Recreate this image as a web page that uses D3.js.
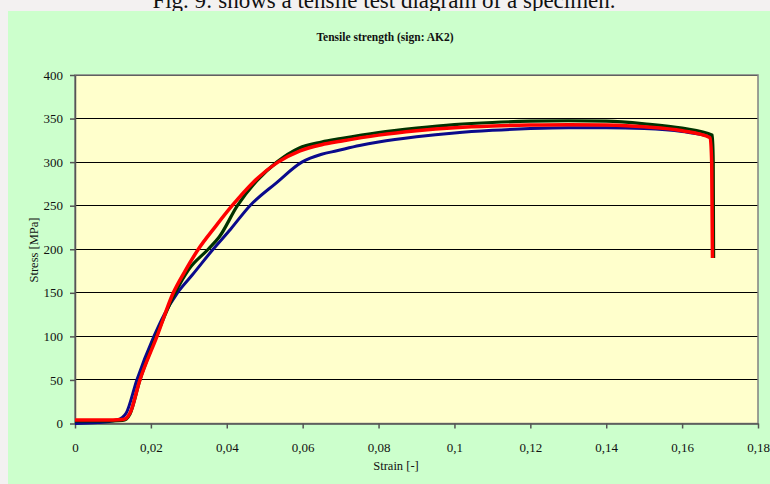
<!DOCTYPE html>
<html><head><meta charset="utf-8">
<script src="https://cdn.jsdelivr.net/npm/d3@7"></script>
<style>html,body{margin:0;padding:0;background:#f3f1f1;overflow:hidden}</style>
</head><body>
<svg id="c" width="770" height="484"></svg>
<script>
const xTicks = [0,0.02,0.04,0.06,0.08,0.1,0.12,0.14,0.16,0.18];
const yTicks = [0,50,100,150,200,250,300,350,400];

const blueStrain = [0,0.006,0.011,0.0125,0.0135,0.0163,0.0208,0.0235,0.027,0.031,0.0364,0.041,0.0461,0.053,0.0598,0.065,0.069,0.075,0.08,0.09,0.1,0.11,0.12,0.13,0.14,0.15,0.16,0.1675,0.168];
const blueStress = [0,1,4,7,12,50,100,125,150,171,200,223,250,276,300,309,313,319,323,329,333.5,336.5,338.5,339.5,339.5,338.5,335,329,320];

const greenStrain = [0,0.01,0.0125,0.0135,0.0145,0.0171,0.0214,0.0264,0.030,0.0351,0.038,0.0428,0.048,0.0532,0.059,0.065,0.07,0.08,0.09,0.1,0.11,0.12,0.13,0.14,0.15,0.16,0.168,0.1682,0.1683];
const greenStress = [3,3,3.5,5,11,50,100,150,177,200,214,250,279,300,316,323,327,334,339,343,345.5,347,347.5,347,344,339,331,300,190];

const redStrain = [0,0.005,0.010,0.0125,0.0135,0.0145,0.0171,0.0216,0.0259,0.029,0.0325,0.037,0.0414,0.047,0.0535,0.0593,0.065,0.07,0.08,0.09,0.1,0.11,0.12,0.13,0.14,0.15,0.16,0.1674,0.1678,0.168];
const redStress = [4,4,4,4.5,6,12,50,100,150,175,200,226,250,277,300,313,320,324,331,336,339.5,341.5,342.5,343,342.5,340.5,336,328,300,190];

const svg = d3.select("#c");
const serif = "'Liberation Serif','DejaVu Serif',serif";

// caption of page (cut off at top, as in the original)
svg.append("text").attr("x",384).attr("y",8).attr("text-anchor","middle")
  .attr("font-family",serif).attr("font-size",23).attr("fill","#111")
  .text("Fig. 9: shows a tensile test diagram of a specimen.");

// chart panel
svg.append("rect").attr("x",8).attr("y",11).attr("width",770).attr("height",480).attr("fill","#ccffcc");

const L=75, R=758, T=75, B=423.5;
const x = d3.scaleLinear().domain([0,0.18]).range([L,R]);
const y = d3.scaleLinear().domain([0,400]).range([B,T]);

svg.append("rect").attr("x",L).attr("y",T).attr("width",R-L).attr("height",B-T).attr("fill","#ffffcc");

// grid
svg.append("g").selectAll("line").data(yTicks.filter(d=>d>0)).join("line")
  .attr("x1",L).attr("x2",R).attr("y1",d=>y(d)).attr("y2",d=>y(d))
  .attr("stroke","#000").attr("stroke-width",1).attr("shape-rendering","crispEdges");

// border
svg.append("rect").attr("x",L).attr("y",T).attr("width",R-L).attr("height",B-T)
  .attr("fill","none").attr("stroke","#808080").attr("stroke-width",1.5);

const fmt = d => d===0 ? "0" : String(+d.toFixed(2)).replace(".",",");

const xAxis = svg.append("g").attr("transform",`translate(0,${B})`)
  .call(d3.axisBottom(x).tickValues(xTicks).tickFormat(fmt).tickSize(5).tickSizeOuter(0));
const yAxis = svg.append("g").attr("transform",`translate(${L},0)`)
  .call(d3.axisLeft(y).tickValues(yTicks).tickSize(5).tickSizeOuter(0));
[xAxis,yAxis].forEach(a=>{
  a.select(".domain").attr("stroke","#555").attr("stroke-width",1.5);
  a.selectAll(".tick line").attr("stroke","#555").attr("stroke-width",1.5);
  a.selectAll(".tick text").attr("font-family",serif).attr("font-size",13).attr("fill","#111");
});
xAxis.selectAll(".tick text").attr("dy","1.6em");
yAxis.selectAll(".tick text").attr("dx","-0.3em");

const line = d3.line().x(d=>x(d[0])).y(d=>y(d[1])).curve(d3.curveMonotoneX);
const series = [
  {s:blueStrain, v:blueStress, c:"#0a0a8c", w:3},
  {s:greenStrain, v:greenStress, c:"#003300", w:3.2},
  {s:redStrain, v:redStress, c:"#ff0000", w:3.5}
];
series.forEach(o=>{
  svg.append("path").datum(o.s.map((d,i)=>[d,o.v[i]]))
    .attr("d",line).attr("fill","none").attr("stroke",o.c).attr("stroke-width",o.w)
    .attr("stroke-linejoin","round");
});

svg.append("text").attr("x",385).attr("y",41).attr("text-anchor","middle")
  .attr("font-family",serif).attr("font-size",11.5).attr("font-weight","bold").attr("fill","#111")
  .text("Tensile strength (sign: AK2)");
svg.append("text").attr("x",396).attr("y",470).attr("text-anchor","middle")
  .attr("font-family",serif).attr("font-size",12.5).attr("fill","#111").text("Strain [-]");
svg.append("text").attr("transform","translate(38,250) rotate(-90)").attr("text-anchor","middle")
  .attr("font-family",serif).attr("font-size",12.5).attr("fill","#111").text("Stress [MPa]");
</script>
</body></html>
